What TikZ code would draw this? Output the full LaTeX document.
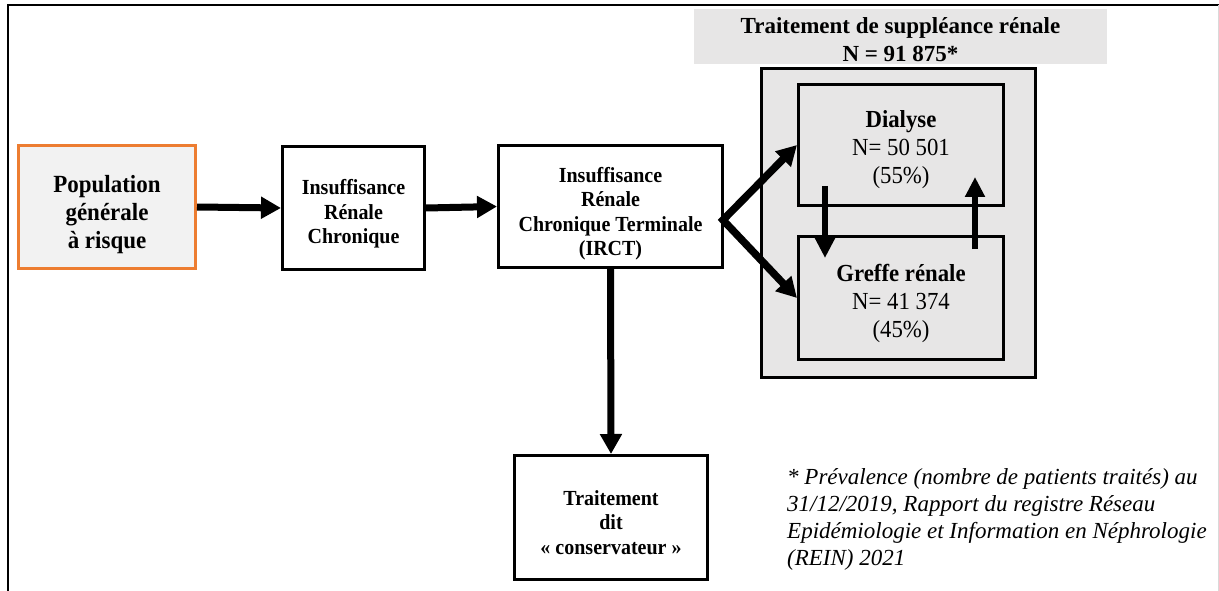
\documentclass[tikz,border=0pt]{standalone}
\usepackage{fontspec}
\setmainfont{Liberation Serif}
\newfontfamily\boxfont{Liberation Serif}[FakeStretch=0.93]
\usetikzlibrary{arrows.meta,calc}
\definecolor{orangeb}{HTML}{ED7D31}
\definecolor{grayfill}{HTML}{E7E6E6}
\definecolor{popfill}{HTML}{F2F2F2}
\definecolor{edgegray}{HTML}{D9D9D9}
\begin{document}
\begin{tikzpicture}[x=1pt,y=-1pt,
  box/.style={draw, line width=3pt, inner sep=0pt},
  txt/.style={align=center, inner sep=0pt,
    font=\boxfont\bfseries\fontsize{21.5}{24.5}\selectfont},
  bigtxt/.style={align=center, inner sep=0pt,
    font=\boxfont\fontsize{24.5}{28}\selectfont},
  fatarrow/.style={line width=7pt, -{Triangle[length=20pt,width=21pt]}},
  innerarrow/.style={line width=6.5pt, -{Triangle[length=20pt,width=19pt]}}
]
\useasboundingbox (0,0) rectangle (1219,591);
% frame
\draw[line width=2pt] (8,591) -- (8,5) -- (1219,5);
\draw[edgegray, line width=1pt] (1218,5) -- (1218,591);

% title
\node[fill=grayfill, minimum width=413pt, minimum height=55pt, inner sep=0pt] (title) at (900.5,36.5) {};
\node[align=center, inner sep=0pt, font=\bfseries\fontsize{23}{28}\selectfont]
  (titleT) at ($(title.center)+(0,3)$) {Traitement de suppléance rénale\\N = 91 875*};

% outer box
\node[box, fill=grayfill, minimum width=274pt, minimum height=309pt] (outer) at (898.5,223) {};

% boxes
\node[box, draw=orangeb, fill=popfill, minimum width=177pt, minimum height=123pt] (pop) at (107,207) {};
\node[txt, font=\boxfont\bfseries\fontsize{24.7}{28}\selectfont] (popT) at ($(pop.center)+(0,8)$)
  {Population\\générale\\à risque};
\node[box, minimum width=142pt, minimum height=123pt] (irc) at (353.5,208) {};
\node[txt] (ircT) at ($(irc.center)+(0,6)$) {Insuffisance\\Rénale\\Chronique};
\node[box, minimum width=224pt, minimum height=122pt] (irct) at (610.5,206.5) {};
\node[txt] (irctT) at ($(irct.center)+(0,7)$) {Insuffisance\\Rénale\\Chronique Terminale\\(IRCT)};
\node[box, minimum width=193pt, minimum height=124pt] (cons) at (611,517.5) {};
\node[txt] (consT) at ($(cons.center)+(0,5)$) {Traitement\\dit\\« conservateur »};
\node[box, fill=grayfill, minimum width=205pt, minimum height=121pt] (dial) at (901,145) {};
\node[bigtxt] (dialT) at ($(dial.center)+(0,5)$) {\textbf{Dialyse}\\N= 50 501\\(55\%)};
\node[box, fill=grayfill, minimum width=205pt, minimum height=123pt] (greffe) at (901,298) {};
\node[bigtxt] (greffeT) at ($(greffe.center)+(0,5)$) {\textbf{Greffe rénale}\\N= 41 374\\(45\%)};

% footnote
\node[anchor=north west, inner sep=0pt, align=left,
  font=\itshape\fontsize{23}{27}\selectfont] (note) at (787,468)
  {* Prévalence (nombre de patients traités) au\\
   31/12/2019, Rapport du registre Réseau\\
   Epidémiologie et Information en Néphrologie\\
   (REIN) 2021};

% connectors
\draw[fatarrow] (pop.east) -- (irc.west);
\draw[fatarrow] (irc.east) -- (irct.west);
\draw[fatarrow] (irct.south) -- (cons.north);
\coordinate (fork) at (723,220);
\draw[line width=7.5pt, line join=miter,
  {Triangle[length=20pt,width=21pt]}-{Triangle[length=20pt,width=21pt]}]
  (dial.west) -- (fork) -- (greffe.west);
\coordinate (dA) at (825,186);
\coordinate (gA) at (825,258);
\coordinate (gB) at (975,249);
\coordinate (dB) at (975,177);
\draw[innerarrow] (dA) -- (gA);
\draw[innerarrow] (gB) -- (dB);
\end{tikzpicture}
\end{document}
